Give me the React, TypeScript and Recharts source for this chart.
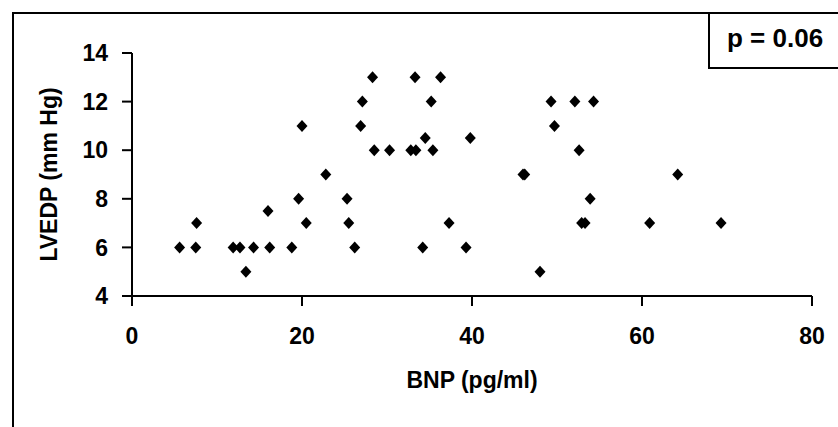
import { ScatterChart, Scatter, XAxis, YAxis } from 'recharts';

// BNP (pg/ml) vs LVEDP (mm Hg)
const bnp = [
  5.6, 7.5, 7.6, 11.9, 12.7, 13.4, 14.3, 16.0, 16.2, 18.8, 19.6, 20.0, 20.5, 22.8, 25.3,
  25.5, 26.2, 26.9, 27.1, 28.3, 28.5, 30.3, 32.8, 33.3, 33.4, 34.2, 34.5, 35.2, 35.4,
  36.3, 37.3, 39.3, 39.8, 46.0, 46.2, 48.0, 49.3, 49.7, 52.1, 52.6, 53.9, 52.9, 53.3, 54.3,
  60.9, 64.2, 69.3,
];
const lvedp = [
  6, 6, 7, 6, 6, 5, 6, 7.5, 6, 6, 8, 11, 7, 9, 8,
  7, 6, 11, 12, 13, 10, 10, 10, 13, 10, 6, 10.5, 12, 10,
  13, 7, 6, 10.5, 9, 9, 5, 12, 11, 12, 10, 8, 7, 7, 12,
  7, 9, 7,
];
const xTicks = [0, 20, 40, 60, 80];
const yTicks = [4, 6, 8, 10, 12, 14];

const data = bnp.map((x, i) => ({ x, y: lvedp[i] }));

const font = "'Liberation Sans', Arial, sans-serif";
const txt = { fill: '#000', fontSize: 23, fontWeight: 700, fontFamily: font };

const Diamond = (props: any) => {
  const { cx, cy } = props;
  const r = 6;
  return <path d={`M${cx},${cy - r}L${cx + r - 0.5},${cy}L${cx},${cy + r}L${cx - r + 0.5},${cy}Z`} fill="#000" />;
};

export default function App() {
  return (
    <div style={{ position: 'fixed', left: 0, top: 0, width: 838, height: 427, background: '#fff', overflow: 'hidden' }}>
      <style>{`.recharts-text { font-weight: 700; font-family: ${font}; }`}</style>
      <div style={{ position: 'absolute', left: 12, top: 12, width: 900, height: 500, border: '2px solid #000' }} />
      <div style={{ position: 'absolute', left: 708, top: 12, width: 200, height: 53, border: '2px solid #000', fontFamily: font, fontWeight: 700, fontSize: 26 }}>
        <div style={{ position: 'absolute', left: 17, top: 9 }}>p = 0.06</div>
      </div>
      <ScatterChart width={838} height={427} margin={{ top: 53, right: 26, bottom: 21, left: 32 }} style={{ position: 'absolute', left: 0, top: 0 }}>
        <XAxis
          type="number"
          dataKey="x"
          domain={[0, 80]}
          ticks={xTicks}
          height={110}
          stroke="#000"
          strokeWidth={2}
          tickSize={10}
          tickMargin={22}
          tick={txt}
          label={{ value: 'BNP (pg/ml)', position: 'insideBottom', offset: 18, ...txt }}
        />
        <YAxis
          type="number"
          dataKey="y"
          domain={[4, 14]}
          ticks={yTicks}
          width={100}
          stroke="#000"
          strokeWidth={2}
          tickSize={10}
          tickMargin={14}
          tick={txt}
          label={{ value: 'LVEDP (mm Hg)', angle: -90, position: 'insideLeft', offset: 17, ...txt, style: { textAnchor: 'middle' } }}
        />
        <Scatter data={data} shape={Diamond} isAnimationActive={false} />
      </ScatterChart>
    </div>
  );
}
